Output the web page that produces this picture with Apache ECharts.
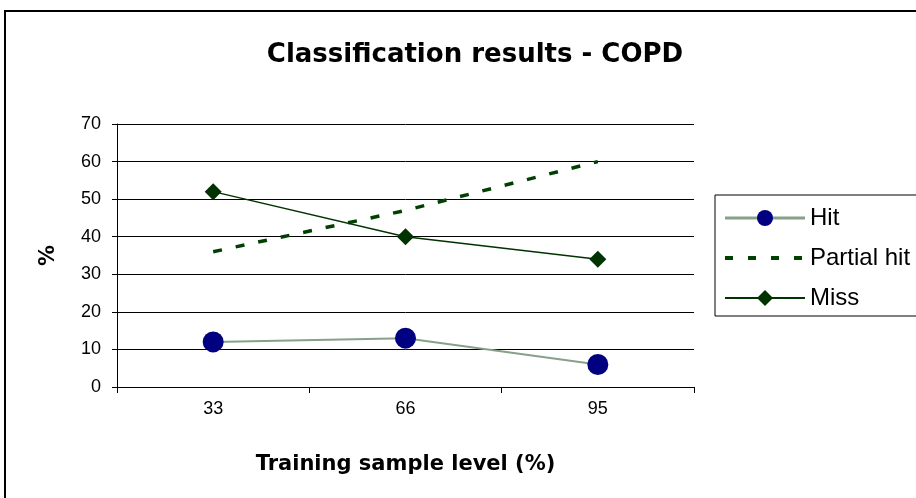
<!DOCTYPE html>
<html lang="en">
<head>
<meta charset="UTF-8">
<title>Classification results - COPD</title>
<script src="https://cdn.jsdelivr.net/npm/echarts@6/dist/echarts.min.js"></script>
<style>
  html, body { margin: 0; padding: 0; background: #fff; }
  #main { width: 916px; height: 498px; }
</style>
</head>
<body>
<div id="main"></div>
<script type="text/javascript">
// data
let categories = ['33', '66', '95'];
let hit = [12, 13, 6];
let partialHit = [36, 47, 60];
let miss = [52, 40, 34];

let font = '"Liberation Sans", Arial, sans-serif';
let boldFont = '"DejaVu Sans", sans-serif';
let myChart = echarts.init(document.getElementById('main'));

let option = {
  animation: false,
  backgroundColor: '#fff',
  textStyle: { fontFamily: font, color: '#000' },
  title: {
    text: 'Classification results - COPD',
    left: 470,
    textAlign: 'center',
    top: 37,
    textStyle: { fontFamily: boldFont, fontSize: 26, fontWeight: 'bold', color: '#000' }
  },
  graphic: [{
    type: 'rect',
    shape: { x: 5, y: 11, width: 1000, height: 1000 },
    style: { fill: 'none', stroke: '#000', lineWidth: 2 },
    silent: true
  }],
  legend: {
    orient: 'vertical',
    left: 715,
    top: 195,
    borderColor: '#000',
    borderWidth: 1,
    padding: [11, 40, 6, 8],
    itemGap: 16,
    itemWidth: 80,
    itemHeight: 20,
    textStyle: { fontFamily: font, fontSize: 24, color: '#000' },
    data: [
      { name: 'Hit', itemStyle: { color: '#000080' }, lineStyle: { width: 3 } },
      { name: 'Partial hit', itemStyle: { opacity: 0 }, lineStyle: { width: 4, type: [8, 15] } },
      'Miss'
    ]
  },
  grid: { left: 117, right: 222, top: 124, bottom: 111 },
  xAxis: {
    type: 'category',
    data: categories,
    boundaryGap: true,
    name: 'Training sample level (%)',
    nameLocation: 'middle',
    nameGap: 67,
    nameTextStyle: { fontFamily: boldFont, fontSize: 21, fontWeight: 'bold', color: '#000' },
    axisLine: { lineStyle: { color: '#000', width: 1 } },
    axisTick: { show: true, length: 6, lineStyle: { color: '#000' } },
    axisLabel: { fontFamily: font, fontSize: 18, color: '#000', margin: 13 }
  },
  yAxis: {
    type: 'value',
    min: 0,
    max: 70,
    interval: 10,
    name: '%',
    nameLocation: 'middle',
    nameGap: 58,
    nameRotate: 90,
    nameTextStyle: { fontFamily: boldFont, fontSize: 21, fontWeight: 'bold', color: '#000' },
    axisLine: { show: true, lineStyle: { color: '#000', width: 1 } },
    axisTick: { show: true, length: 5, lineStyle: { color: '#000' } },
    axisLabel: { fontFamily: font, fontSize: 18, color: '#000', margin: 16 },
    splitLine: { lineStyle: { color: '#000', width: 1 } }
  },
  series: [
    {
      name: 'Hit',
      type: 'line',
      data: hit,
      symbol: 'circle',
      symbolSize: 21,
      itemStyle: { color: '#000080' },
      lineStyle: { color: '#88a088', width: 2 }
    },
    {
      name: 'Partial hit',
      type: 'line',
      data: partialHit,
      symbol: 'none',
      itemStyle: { color: '#004000' },
      lineStyle: { color: '#004000', width: 3.5, type: [9, 14] }
    },
    {
      name: 'Miss',
      type: 'line',
      data: miss,
      symbol: 'diamond',
      symbolSize: 17,
      itemStyle: { color: '#003300' },
      lineStyle: { color: '#003300', width: 1.5 }
    }
  ]
};
myChart.setOption(option);
</script>
</body>
</html>
